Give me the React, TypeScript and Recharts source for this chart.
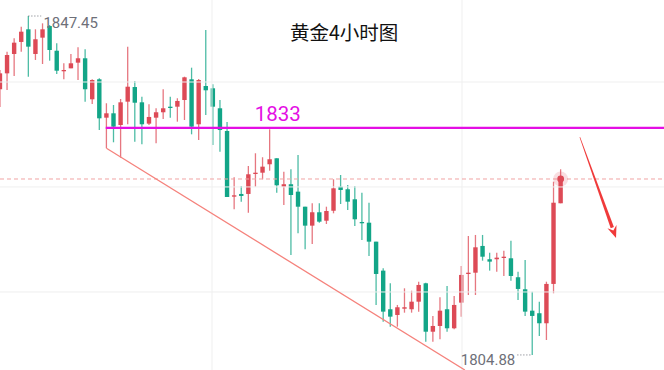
import { ComposedChart, Bar, XAxis, YAxis, ReferenceLine, ReferenceDot } from 'recharts';

// 4h gold candles (oldest first)
const opens = [
  1838.25, 1840.25, 1842.68, 1844.19, 1845.78, 1842.68, 1844.73, 1846.19, 1843.09, 1840.54,
  1840.88, 1841.59, 1842.14, 1836.99, 1839.5, 1834.68, 1835.23, 1833.76, 1836.69, 1838.53,
  1836.61, 1833.93, 1834.68, 1835.36, 1836.06, 1836.06, 1836.9, 1839.5, 1833.85, 1838.66,
  1838.37, 1835.86, 1833.01, 1824.76, 1825.1, 1825.1, 1827.61, 1827.77, 1828.83, 1829.58,
  1826.01, 1826.32, 1825.39, 1823.5, 1821.12, 1822.8, 1821.74, 1822.99, 1826.01, 1825.69,
  1824.43, 1821.58, 1821.49, 1819.11, 1815.47, 1810.62, 1809.9, 1810.69, 1810.62, 1811.57,
  1813.88, 1807.8, 1808.52, 1810.62, 1808.23, 1811.45, 1815.05, 1815.21, 1818.57, 1816.9,
  1816.9, 1817.06, 1817.02, 1814.64, 1813.13, 1810.44, 1810.12, 1808.86, 1813.8, 1823.93,
];
const highs = [
  1840.67, 1842.97, 1844.65, 1846.11, 1847.45, 1845.78, 1846.53, 1846.32, 1844.02, 1841.51,
  1842.68, 1843.52, 1843.27, 1839.5, 1839.63, 1836.49, 1836.27, 1837.03, 1843.6, 1839.29,
  1837.32, 1836.36, 1835.86, 1838.25, 1837.32, 1837.12, 1839.83, 1840.96, 1839.54, 1845.69,
  1838.87, 1836.9, 1834.14, 1827.19, 1826.1, 1828.61, 1830.21, 1829.71, 1833.22, 1829.58,
  1827.9, 1828.2, 1830.0, 1823.5, 1823.93, 1823.93, 1823.5, 1826.94, 1827.48, 1826.23,
  1826.1, 1825.26, 1824.0, 1819.11, 1815.77, 1813.88, 1811.16, 1813.25, 1812.95, 1814.08,
  1813.96, 1809.78, 1812.12, 1813.54, 1812.29, 1816.06, 1819.82, 1819.95, 1819.95, 1817.72,
  1817.72, 1817.98, 1819.23, 1815.34, 1816.81, 1812.83, 1811.57, 1814.08, 1826.64, 1828.2,
];
const lows = [
  1836.02, 1838.16, 1839.92, 1842.97, 1839.83, 1841.93, 1841.42, 1841.84, 1840.17, 1839.5,
  1840.88, 1839.41, 1836.69, 1836.4, 1833.13, 1830.84, 1831.59, 1829.66, 1833.85, 1831.67,
  1831.34, 1833.76, 1831.46, 1834.52, 1834.68, 1834.18, 1834.39, 1832.59, 1831.88, 1835.02,
  1831.25, 1830.41, 1824.72, 1823.18, 1824.13, 1822.75, 1826.01, 1826.94, 1828.02, 1825.26,
  1823.72, 1817.44, 1820.16, 1818.15, 1818.82, 1821.49, 1821.33, 1822.67, 1823.84, 1823.09,
  1821.08, 1819.32, 1817.31, 1811.16, 1809.06, 1808.43, 1808.43, 1810.19, 1810.19, 1810.32,
  1806.55, 1806.55, 1806.85, 1807.8, 1808.11, 1809.69, 1812.41, 1812.41, 1816.72, 1815.47,
  1815.34, 1814.8, 1814.21, 1811.79, 1809.78, 1804.88, 1807.27, 1806.76, 1812.63, 1823.93,
];
const closes = [
  1840.25, 1842.55, 1844.1, 1845.48, 1843.6, 1844.53, 1845.78, 1843.18, 1840.58, 1840.67,
  1841.51, 1842.14, 1838.25, 1839.41, 1834.6, 1835.23, 1833.55, 1836.61, 1838.57, 1836.56,
  1833.85, 1834.77, 1835.36, 1835.86, 1835.94, 1836.78, 1839.75, 1833.55, 1839.41, 1838.12,
  1836.06, 1833.13, 1824.72, 1824.93, 1824.85, 1827.57, 1827.77, 1828.53, 1829.46, 1826.19,
  1826.32, 1824.97, 1823.5, 1821.12, 1822.8, 1821.62, 1822.96, 1825.81, 1825.6, 1824.13,
  1821.92, 1821.49, 1819.11, 1815.05, 1810.32, 1809.69, 1810.87, 1810.87, 1811.57, 1813.67,
  1807.8, 1808.52, 1810.44, 1808.23, 1811.16, 1814.93, 1815.21, 1818.4, 1817.22, 1816.6,
  1817.1, 1817.22, 1814.8, 1813.17, 1810.32, 1809.78, 1808.86, 1813.8, 1824.0, 1826.98,
];

const highLabel = '1847.45';
const lowLabel = '1804.88';
const resistance = 1833.4;
const resistanceLabel = '1833';
const lastPrice = 1826.98;
const gridPrices = [1839.16, 1825.98, 1812.79];
const gridSlots = [29.87, 65.1];
// trend line from candle 15's low down to the bottom edge
const trendFrom = { x: 15, y: 1830.84 };
const trendTo = { x: 65.5, y: 1802.99 };
const arrowFrom = { x: 81.7, y: 1832.25 };
const arrowTo = { x: 86.8, y: 1819.57 };

const data = opens.map((open, i) => ({
  i,
  open,
  high: highs[i],
  low: lows[i],
  close: closes[i],
  range: [lows[i], highs[i]],
}));

const RED = '#dd4a56';
const GREEN = '#12a587';
const MAGENTA = '#e40ee4';
const FONT = 'Roboto, "Noto Sans", sans-serif';

const Candle = (props: any) => {
  const { x, y, width, height, payload } = props;
  if (!payload) return null;
  const { open, close, high, low } = payload;
  const color = close >= open ? RED : GREEN;
  const top = Math.min(y, y + height);
  const h = Math.abs(height);
  const unit = h / (high - low || 1);
  const py = (v: number) => top + (high - v) * unit;
  const cx = x + width / 2;
  const bTop = py(Math.max(open, close));
  const bBot = py(Math.min(open, close));
  return (
    <g>
      <line x1={cx} x2={cx} y1={top} y2={top + h} stroke={color} strokeOpacity={0.75} strokeWidth={1.3} />
      <rect x={cx - 2.2} y={bTop} width={4.4} height={Math.max(1.3, bBot - bTop)} fill={color} />
    </g>
  );
};

const Arrow = (props: any) => {
  const { x1, y1, x2, y2 } = props;
  const dx = x2 - x1;
  const dy = y2 - y1;
  const len = Math.hypot(dx, dy);
  const ux = dx / len, uy = dy / len;
  const nx = -uy, ny = ux;
  const bx = x2 - ux * 11, by = y2 - uy * 11;
  const shaft = [
    [x1 + nx * 0.3, y1 + ny * 0.3],
    [bx + nx * 1.7, by + ny * 1.7],
    [bx - nx * 1.7, by - ny * 1.7],
    [x1 - nx * 0.3, y1 - ny * 0.3],
  ];
  const head = [
    [x2, y2],
    [bx + nx * 4.8 - ux * 1, by + ny * 4.8 - uy * 1],
    [bx + ux * 3, by + uy * 3],
    [bx - nx * 4.8 - ux * 1, by - ny * 4.8 - uy * 1],
  ];
  const pts = (a: number[][]) => a.map((p) => p.join(',')).join(' ');
  return (
    <g>
      <polygon points={pts(shaft)} fill="#f03a3a" />
      <polygon points={pts(head)} fill="#f03a3a" />
    </g>
  );
};

const TextMark = ({ text, dx, dy, anchor, size, color }: any) => (props: any) => (
  <text
    x={props.cx + dx}
    y={props.cy + dy}
    textAnchor={anchor}
    fontSize={size}
    fill={color}
    fontFamily={FONT}
  >
    {text}
  </text>
);

export default function App() {
  return (
    <div style={{ position: 'absolute', left: 0, top: 0, width: 664, height: 370, background: '#fff', overflow: 'hidden' }}>
      <ComposedChart width={664} height={370} data={data} margin={{ top: 0, right: 0, bottom: 0, left: 0 }}>
        <XAxis dataKey="i" type="number" domain={[0, 93.56]} hide allowDataOverflow />
        <YAxis type="number" domain={[1802.99, 1849.46]} hide allowDataOverflow />
        {gridPrices.map((p) => (
          <ReferenceLine key={p} y={p} stroke="#efefef" strokeWidth={1} />
        ))}
        {gridSlots.map((s) => (
          <ReferenceLine key={s} x={s} stroke="#efefef" strokeWidth={1} />
        ))}
        <ReferenceLine y={lastPrice} stroke="#f1a3a3" strokeDasharray="4 3" strokeWidth={1} />
        <ReferenceLine
          segment={[trendFrom, trendTo]}
          stroke="#f5827c"
          strokeWidth={1.3}
          ifOverflow="visible"
        />
        <ReferenceLine
          segment={[{ x: 14.9, y: resistance }, { x: 93.56, y: resistance }]}
          stroke={MAGENTA}
          strokeWidth={2.4}
        />
        <Bar dataKey="range" barSize={5} shape={<Candle />} isAnimationActive={false} />
        <ReferenceLine segment={[arrowFrom, arrowTo]} shape={<Arrow />} />
        <ReferenceDot x={79} y={lastPrice} r={7.5} fill={RED} fillOpacity={0.18} stroke="none" />
        <ReferenceDot x={79} y={lastPrice} r={3.4} fill={RED} stroke="none" />
        <ReferenceLine
          segment={[{ x: 4, y: 1847.45 }, { x: 5.8, y: 1847.45 }]}
          stroke="#6e7079"
          strokeDasharray="1 2"
        />
        <ReferenceLine
          segment={[{ x: 72.9, y: 1804.88 }, { x: 75, y: 1804.88 }]}
          stroke="#6e7079"
          strokeDasharray="1 2"
        />
        <ReferenceDot
          x={4}
          y={1847.45}
          r={0}
          shape={TextMark({ text: highLabel, dx: 15, dy: 11.5, anchor: 'start', size: 15, color: '#6e7079' })}
        />
        <ReferenceDot
          x={75}
          y={1804.88}
          r={0}
          shape={TextMark({ text: lowLabel, dx: -17, dy: 10, anchor: 'end', size: 15, color: '#6e7079' })}
        />
        <ReferenceDot
          x={35.9}
          y={resistance}
          r={0}
          shape={TextMark({ text: resistanceLabel, dx: 0, dy: -6.5, anchor: 'start', size: 20.5, color: MAGENTA })}
        />
      </ComposedChart>
      <div
        style={{
          position: 'absolute',
          left: 290,
          top: 22,
          fontSize: 19.5,
          lineHeight: '20px',
          color: '#111',
          fontFamily: '"Noto Sans CJK SC", sans-serif',
        }}
      >
        黄金4小时图
      </div>
    </div>
  );
}
